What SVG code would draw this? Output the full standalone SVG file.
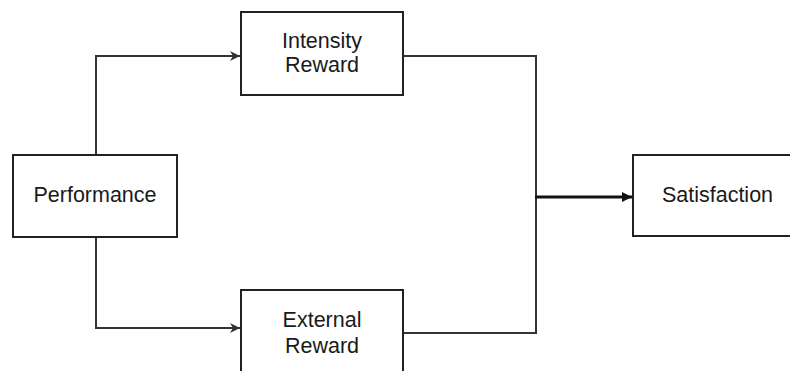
<svg xmlns="http://www.w3.org/2000/svg" width="790" height="371" viewBox="0 0 790 371">
<style>
.box{fill:#fff;stroke:#222;stroke-width:2}
.lbl{font-family:"Liberation Sans",Arial,sans-serif;font-size:21.5px;fill:#1a1a1a;text-anchor:middle}
.conn{fill:none;stroke:#333;stroke-width:2}
.thick{fill:none;stroke:#111;stroke-width:3}
</style>
<defs>
<marker id="ah" markerUnits="userSpaceOnUse" markerWidth="12" markerHeight="12" refX="10" refY="6" orient="auto">
<path d="M0,1 L10,6 L0,11 L3,6 Z" fill="#333"/>
</marker>
<marker id="ahb" markerUnits="userSpaceOnUse" markerWidth="12" markerHeight="12" refX="10" refY="6" orient="auto">
<path d="M0,1 L10,6 L0,11 Z" fill="#111"/>
</marker>
</defs>
<rect width="790" height="371" fill="#fff"/>
<g id="connectors">
<polyline class="conn" points="96,155 96,56 240,56" marker-end="url(#ah)"/>
<polyline class="conn" points="96,237 96,328 240,328" marker-end="url(#ah)"/>
<polyline class="conn" points="403,56 536,56 536,333 403,333"/>
<line class="thick" x1="535" y1="197" x2="632" y2="197" marker-end="url(#ahb)"/>
</g>
<g id="performance">
<rect class="box" x="13" y="155" width="164" height="82"/>
<text class="lbl" x="95" y="202">Performance</text>
</g>
<g id="intensity-reward">
<rect class="box" x="241" y="12" width="162" height="83"/>
<text class="lbl" x="322" y="48">Intensity</text>
<text class="lbl" x="322" y="72">Reward</text>
</g>
<g id="external-reward">
<rect class="box" x="241" y="290" width="162" height="100"/>
<text class="lbl" x="322" y="327">External</text>
<text class="lbl" x="322" y="353">Reward</text>
</g>
<g id="satisfaction">
<rect class="box" x="633" y="155" width="180" height="81"/>
<text class="lbl" x="717.5" y="202">Satisfaction</text>
</g>
</svg>
